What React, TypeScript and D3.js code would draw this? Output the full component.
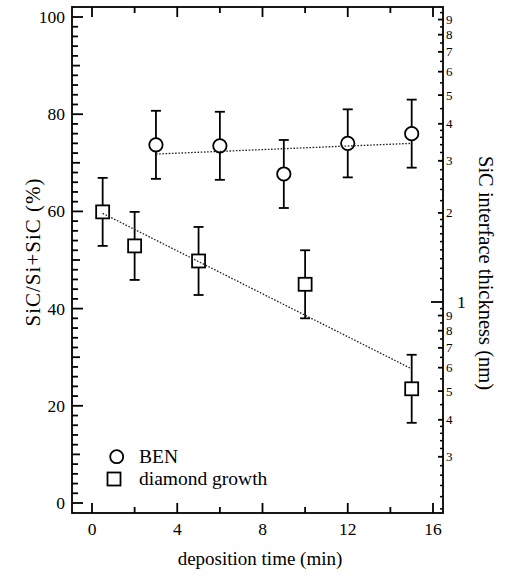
import React from "react";
import * as d3 from "d3";

const benTime = [3, 6, 9, 12, 15];
const benValue = [73.7, 73.5, 67.7, 74.0, 76.0];
const benError = [7, 7, 7, 7, 7];
const benFitTime = [3, 15];
const benFitValue = [71.8, 74.0];

const growthTime = [0.5, 2, 5, 10, 15];
const growthValue = [59.9, 52.9, 49.8, 45.0, 23.5];
const growthError = [7, 7, 7, 7, 7];
const growthFitTime = [0.5, 15];
const growthFitValue = [59.6, 27.6];

const xTicks = [0, 4, 8, 12, 16];
const xMinorTicks = [2, 6, 10, 14];
const yTicks = [0, 20, 40, 60, 80, 100];
const rightMajor = [1];
const rightLabeled = [0.3, 0.4, 0.5, 0.6, 0.7, 0.8, 0.9, 2, 3, 4, 5, 6, 7, 8, 9];

const FONT = "'Liberation Serif', 'Times New Roman', serif";

export default function App() {
  const W = 507, H = 576;
  const left = 72, right = 443, top = 7, bottom = 513;
  const x = d3.scaleLinear().domain([0, 16]).range([92, 433]);
  const y = d3.scaleLinear().domain([0, 100]).range([503, 17]);
  const yr = d3.scaleLog().domain([1, 10]).range([302, 6]);

  const yMinor = d3.range(0, 101, 2).filter((v) => v % 20 !== 0);
  const rightSmall: number[] = [];
  for (let v = 0.22; v < 0.3; v += 0.02) rightSmall.push(+v.toFixed(2));
  for (let v = 0.32; v < 0.4; v += 0.02) rightSmall.push(+v.toFixed(2));
  for (let v = 0.45; v < 1; v += 0.1) rightSmall.push(+v.toFixed(2));
  for (let v = 1.1; v < 2; v += 0.1) rightSmall.push(+v.toFixed(2));
  for (let v = 2.2; v < 4; v += 0.2) rightSmall.push(+v.toFixed(2));
  for (let v = 4.5; v < 10; v += 1) rightSmall.push(+v.toFixed(2));
  rightSmall.push(0.2);

  const line = d3
    .line<[number, number]>()
    .x((d) => x(d[0]))
    .y((d) => y(d[1]));

  const benFit = benFitTime.map((t, i) => [t, benFitValue[i]] as [number, number]);
  const growthFit = growthFitTime.map((t, i) => [t, growthFitValue[i]] as [number, number]);

  const sw = 1.8;
  const cap = 5;

  const errBars = (times: number[], vals: number[], errs: number[], key: string) =>
    times.map((t, i) => {
      const cx = x(t);
      const y1 = y(vals[i] + errs[i]);
      const y2 = y(vals[i] - errs[i]);
      return (
        <g key={key + i}>
          <line x1={cx} x2={cx} y1={y1} y2={y2} stroke="#000" strokeWidth={sw} />
          <line x1={cx - cap} x2={cx + cap} y1={y1} y2={y1} stroke="#000" strokeWidth={sw} />
          <line x1={cx - cap} x2={cx + cap} y1={y2} y2={y2} stroke="#000" strokeWidth={sw} />
        </g>
      );
    });

  return (
    <svg width={W} height={H} style={{ position: "absolute", left: 0, top: 0, background: "#fff" }}>
      <rect x={0} y={0} width={W} height={H} fill="#fff" />
      <rect x={left} y={top} width={right - left} height={bottom - top} fill="none" stroke="#000" strokeWidth={sw} />

      {xTicks.map((t) => (
        <g key={"xt" + t}>
          <line x1={x(t)} x2={x(t)} y1={bottom} y2={bottom - 10} stroke="#000" strokeWidth={sw} />
          <line x1={x(t)} x2={x(t)} y1={top} y2={top + 10} stroke="#000" strokeWidth={sw} />
          <text x={x(t)} y={535} textAnchor="middle" fontFamily={FONT} fontSize={17.5}>
            {t}
          </text>
        </g>
      ))}
      {xMinorTicks.map((t) => (
        <g key={"xm" + t}>
          <line x1={x(t)} x2={x(t)} y1={bottom} y2={bottom - 6} stroke="#000" strokeWidth={sw} />
          <line x1={x(t)} x2={x(t)} y1={top} y2={top + 6} stroke="#000" strokeWidth={sw} />
        </g>
      ))}

      {yTicks.map((v) => (
        <g key={"yt" + v}>
          <line x1={left} x2={left + 11} y1={y(v)} y2={y(v)} stroke="#000" strokeWidth={sw} />
          <text x={65} y={y(v) + 6} textAnchor="end" fontFamily={FONT} fontSize={17.5}>
            {v}
          </text>
        </g>
      ))}
      {yMinor.map((v) => (
        <line key={"ym" + v} x1={left} x2={left + (v % 10 === 0 ? 8 : 6)} y1={y(v)} y2={y(v)} stroke="#000" strokeWidth={sw} />
      ))}

      {rightMajor.map((v) => (
        <g key={"rM" + v}>
          <line x1={right} x2={right - 12} y1={yr(v)} y2={yr(v)} stroke="#000" strokeWidth={sw} />
          <text x={457} y={yr(v) + 6} fontFamily={FONT} fontSize={17.5}>
            {v}
          </text>
        </g>
      ))}
      {rightLabeled.map((v) => (
        <g key={"rL" + v}>
          <line x1={right} x2={right - 5} y1={yr(v)} y2={yr(v)} stroke="#000" strokeWidth={sw} />
          <text x={446} y={yr(v) + 4.5} fontFamily={FONT} fontSize={13}>
            {v < 1 ? Math.round(v * 10) : v}
          </text>
        </g>
      ))}
      {rightSmall.map((v) => (
        <line key={"rs" + v} x1={right} x2={right - 3} y1={yr(v)} y2={yr(v)} stroke="#000" strokeWidth={1.5} />
      ))}

      {errBars(benTime, benValue, benError, "be")}
      {errBars(growthTime, growthValue, growthError, "ge")}

      {benTime.map((t, i) => (
        <circle key={"bc" + i} cx={x(t)} cy={y(benValue[i])} r={6.7} fill="#fff" stroke="#000" strokeWidth={sw} />
      ))}
      {growthTime.map((t, i) => (
        <rect key={"gs" + i} x={x(t) - 6.5} y={y(growthValue[i]) - 6.5} width={13} height={13} fill="#fff" stroke="#000" strokeWidth={sw} />
      ))}

      <path d={line(benFit) || ""} fill="none" stroke="#222" strokeWidth={1.3} strokeDasharray="1.6,1.6" />
      <path d={line(growthFit) || ""} fill="none" stroke="#222" strokeWidth={1.3} strokeDasharray="1.6,1.6" />

      <circle cx={116.7} cy={456.7} r={6.5} fill="#fff" stroke="#000" strokeWidth={sw} />
      <text x={139} y={463} fontFamily={FONT} fontSize={19.5}>BEN</text>
      <rect x={107.5} y={472.5} width={13} height={13} fill="#fff" stroke="#000" strokeWidth={sw} />
      <text x={139} y={485} fontFamily={FONT} fontSize={19.5}>diamond growth</text>

      <text x={260} y={565} textAnchor="middle" fontFamily={FONT} fontSize={19}>
        deposition time (min)
      </text>
      <text
        transform={`translate(40, 252) rotate(-90)`}
        textAnchor="middle"
        fontFamily={FONT}
        fontSize={21}
        letterSpacing={1}
      >
        SiC/Si+SiC (%)
      </text>
      <text
        transform={`translate(479, 273) rotate(90)`}
        textAnchor="middle"
        fontFamily={FONT}
        fontSize={20.5}
      >
        SiC interface thickness (nm)
      </text>
    </svg>
  );
}
